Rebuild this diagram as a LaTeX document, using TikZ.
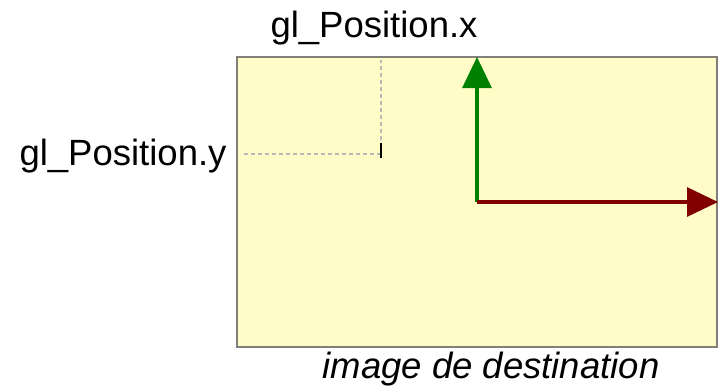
\documentclass[tikz,border=0pt]{standalone}
\usepackage{fontspec}
\setmainfont{Liberation Sans}
\usetikzlibrary{arrows.meta}
\begin{document}
\begin{tikzpicture}[x=1pt,y=-1pt,
  lbl/.style={inner sep=0pt, font=\fontsize{36.5}{42}\selectfont},
  guide/.style={draw=black!28, dash pattern=on 4pt off 3pt, line width=1.4pt},
  axis/.style={line width=3.2pt, -{Triangle[length=31pt,width=29pt]}},
]
\useasboundingbox (0,0) rectangle (721,386);
\coordinate (tl) at (237,57);
\coordinate (br) at (717,347);
\fill[fill={rgb,255:red,255;green,252;blue,200}] (tl) rectangle (br);
\draw[draw={rgb,255:red,128;green,128;blue,120}, line width=1.2pt] (tl) rectangle (br);
% guides
\coordinate (p) at (381,154);
\coordinate (ptop) at (381,60);
\coordinate (pleft) at (241,154);
\draw[guide] (p) -- (ptop);
\draw[guide] (p) -- (pleft);
\coordinate (tka) at (381,143);
\coordinate (tkb) at (381,158);
\draw[black, line width=1.2pt] (tka) -- (tkb);
% axes
\coordinate (o) at (477,202);
\coordinate (ytip) at (477,57);
\coordinate (xtip) at (718,202);
\draw[axis, draw={rgb,255:red,0;green,128;blue,0}, fill={rgb,255:red,0;green,128;blue,0}] (o) -- (ytip);
\draw[axis, draw={rgb,255:red,128;green,0;blue,0}, fill={rgb,255:red,128;green,0;blue,0}] (o) -- (xtip);
% labels
\node[lbl, anchor=base] (lx) at (374,37) {gl\_Position.x};
\node[lbl, anchor=base] (ly) at (123,165) {gl\_Position.y};
\node[lbl, anchor=base] (ld) at (491,378) {\itshape image de destination};
\end{tikzpicture}
\end{document}
